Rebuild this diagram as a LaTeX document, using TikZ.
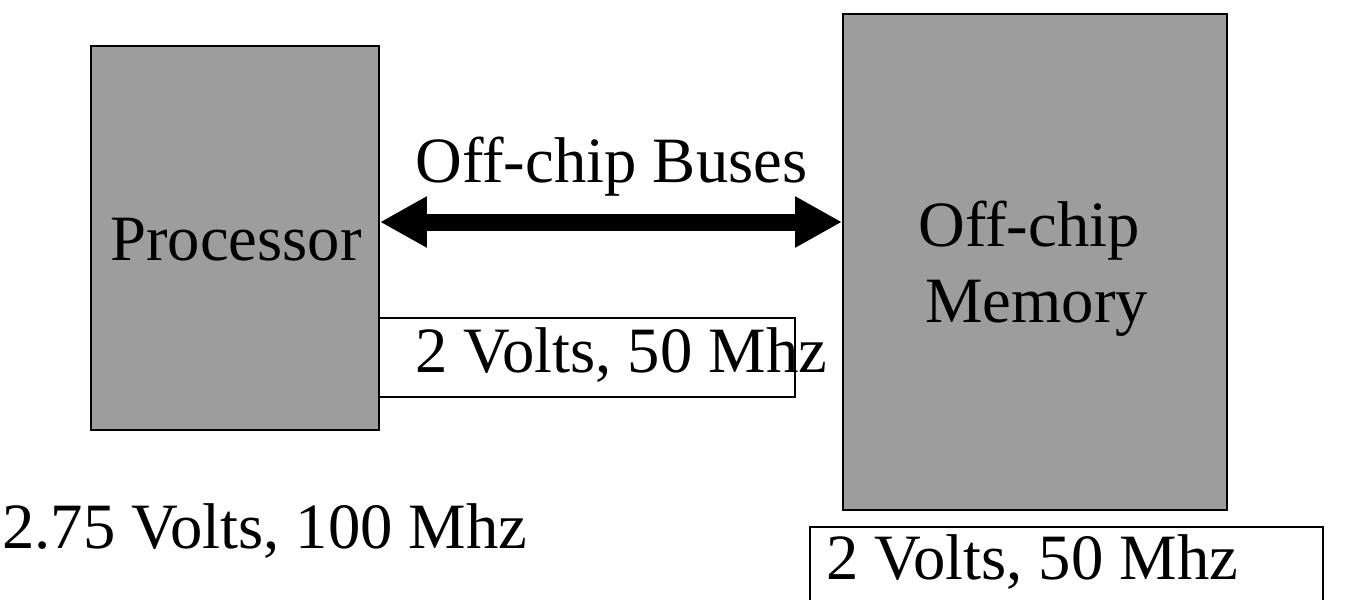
\documentclass[tikz,border=0pt]{standalone}
\usepackage{fontspec}
\setmainfont{Liberation Serif}
\usetikzlibrary{arrows.meta}
\definecolor{boxgray}{RGB}{157,157,157}
\begin{document}
\begin{tikzpicture}[x=0.02cm,y=-0.02cm,
  font=\fontsize{36.8}{44}\selectfont,
  block/.style={draw=black, line width=0.04cm, fill=boxgray, inner sep=0pt},
  tag/.style={draw=black, line width=0.04cm, fill=white, inner sep=0pt},
  txt/.style={anchor=base west, inner sep=0pt},
  bus/.style={line width=0.34cm, {Triangle[length=0.94cm,width=0.96cm]}-{Triangle[length=0.94cm,width=0.96cm]}}]
\useasboundingbox (0,0) rectangle (1353,599);
\clip (0,0) rectangle (1353,599);
\node[block, minimum width=5.76cm, minimum height=7.68cm] (proc) at (235,238) {};
\node[block, minimum width=7.68cm, minimum height=9.92cm] (mem) at (1035,262) {};
\node[tag, minimum width=8.32cm, minimum height=1.58cm] (ptag) at (587,357.5) {};
\node[tag, minimum width=10.26cm, minimum height=2.44cm] (mtag) at (1066.5,588) {};
\coordinate (ay) at (0,222);
\draw[bus] (proc.east |- ay) -- (mem.west |- ay);
\node[txt] (buslbl) at (415,182) {Off-chip Buses};
\node[txt] (proclbl) at (110,260) {Processor};
\node[txt] (memlbl1) at (918,246) {Off-chip};
\node[txt] (memlbl2) at (925,322) {Memory};
\node[txt] (ptaglbl) at (415,372) {2 Volts, 50 Mhz};
\node[txt] (proclbl2) at (2,548) {2.75 Volts, 100 Mhz};
\node[txt] (mtaglbl) at (826,579) {2 Volts, 50 Mhz};
\end{tikzpicture}
\end{document}
